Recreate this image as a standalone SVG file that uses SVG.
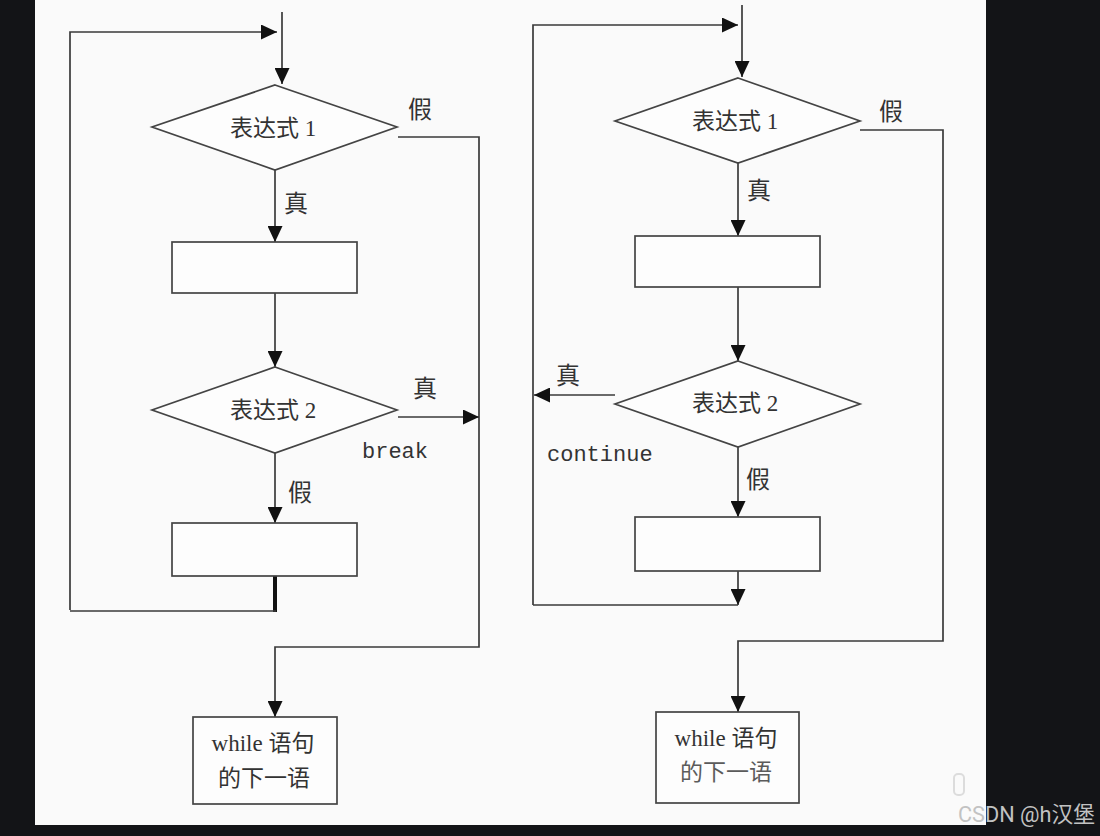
<svg xmlns="http://www.w3.org/2000/svg" width="1100" height="836" viewBox="0 0 1100 836">
<defs>
<marker id="ah" markerUnits="userSpaceOnUse" markerWidth="16" markerHeight="15" refX="16" refY="7.5" orient="auto">
<path d="M0,0 L16,7.5 L0,15 z" fill="#111"/>
</marker>
<style>
.ln{fill:none;stroke:#3a3a3a;stroke-width:1.7}
.shape{fill:#fdfdfd;stroke:#444;stroke-width:1.7}
.lab{font-family:"Noto Sans CJK SC",sans-serif;fill:#333;font-size:24px;text-anchor:middle}
.mono{font-family:"Liberation Mono",monospace;fill:#333;font-size:22px}
.expr{font-family:"Liberation Serif","Noto Sans CJK SC",serif;fill:#333;font-size:23px;text-anchor:middle}
</style>
</defs>
<rect x="0" y="0" width="1100" height="836" fill="#131417"/>
<rect x="35" y="0" width="951" height="825" fill="#fafafa"/>

<g id="connectors">
<!-- left panel -->
<line class="ln" x1="282" y1="12" x2="282" y2="84" marker-end="url(#ah)"/>
<polyline class="ln" points="70,610 70,32 277,32" marker-end="url(#ah)"/>
<polyline class="ln" points="398,137 479,137 479,647 275,647 275,717" marker-end="url(#ah)"/>
<line class="ln" x1="275" y1="170" x2="275" y2="242" marker-end="url(#ah)"/>
<line class="ln" x1="275" y1="293" x2="275" y2="367" marker-end="url(#ah)"/>
<line class="ln" x1="398" y1="417" x2="479" y2="417" marker-end="url(#ah)"/>
<line class="ln" x1="275" y1="453" x2="275" y2="523" marker-end="url(#ah)"/>
<line x1="275" y1="576" x2="275" y2="612" stroke="#111" stroke-width="4"/>
<line class="ln" x1="70" y1="611" x2="276" y2="611"/>
<!-- right panel -->
<line class="ln" x1="742" y1="5" x2="742" y2="77" marker-end="url(#ah)"/>
<polyline class="ln" points="533,605 533,25 738,25" marker-end="url(#ah)"/>
<polyline class="ln" points="860,130 943,130 943,641 738,641 738,712" marker-end="url(#ah)"/>
<line class="ln" x1="738" y1="163" x2="738" y2="236" marker-end="url(#ah)"/>
<line class="ln" x1="738" y1="287" x2="738" y2="361" marker-end="url(#ah)"/>
<line class="ln" x1="615" y1="395" x2="534" y2="395" marker-end="url(#ah)"/>
<line class="ln" x1="738" y1="447" x2="738" y2="517" marker-end="url(#ah)"/>
<line class="ln" x1="738" y1="571" x2="738" y2="605" marker-end="url(#ah)"/>
<line class="ln" x1="533" y1="605" x2="738" y2="605"/>
</g>

<g id="L_expr1">
<polygon class="shape" points="275,85 397,127 275,170 152,127"/>
<text class="expr" x="273" y="136">表达式 1</text>
</g>
<g id="L_box1"><rect class="shape" x="172" y="242" width="185" height="51"/></g>
<g id="L_expr2">
<polygon class="shape" points="275,367 397,410 275,453 152,410"/>
<text class="expr" x="273" y="418">表达式 2</text>
</g>
<g id="L_box2"><rect class="shape" x="172" y="523" width="185" height="53"/></g>
<g id="L_next">
<rect class="shape" x="193" y="717" width="144" height="87"/>
<text class="expr" x="263" y="751">while 语句</text>
<text class="expr" x="264" y="786">的下一语</text>
</g>
<g id="L_labels">
<text class="lab" x="420" y="118">假</text>
<text class="lab" x="296" y="212">真</text>
<text class="lab" x="425" y="397">真</text>
<text class="mono" x="362" y="458">break</text>
<text class="lab" x="300" y="501">假</text>
</g>

<g id="R_expr1">
<polygon class="shape" points="738,78 860,121 738,163 615,121"/>
<text class="expr" x="735" y="129">表达式 1</text>
</g>
<g id="R_box1"><rect class="shape" x="635" y="236" width="185" height="51"/></g>
<g id="R_expr2">
<polygon class="shape" points="738,361 860,404 738,447 615,404"/>
<text class="expr" x="735" y="411">表达式 2</text>
</g>
<g id="R_box2"><rect class="shape" x="635" y="517" width="185" height="54"/></g>
<g id="R_next">
<rect class="shape" x="656" y="712" width="143" height="91"/>
<text class="expr" x="726" y="746">while 语句</text>
<text class="expr" x="726" y="780" fill="#666" opacity="0.8">的下一语</text>
</g>
<g id="R_labels">
<text class="lab" x="891" y="120">假</text>
<text class="lab" x="759" y="199">真</text>
<text class="lab" x="568" y="384">真</text>
<text class="mono" x="547" y="461">continue</text>
<text class="lab" x="758" y="488">假</text>
</g>

<rect x="954" y="774" width="10" height="21" rx="4" fill="none" stroke="#dcdcdc" stroke-width="2"/>
<text x="958" y="822" font-family="Roboto,'Noto Sans CJK SC',sans-serif" font-size="21.7" fill="#c2c2c2">CSDN @h汉堡</text>
</svg>
